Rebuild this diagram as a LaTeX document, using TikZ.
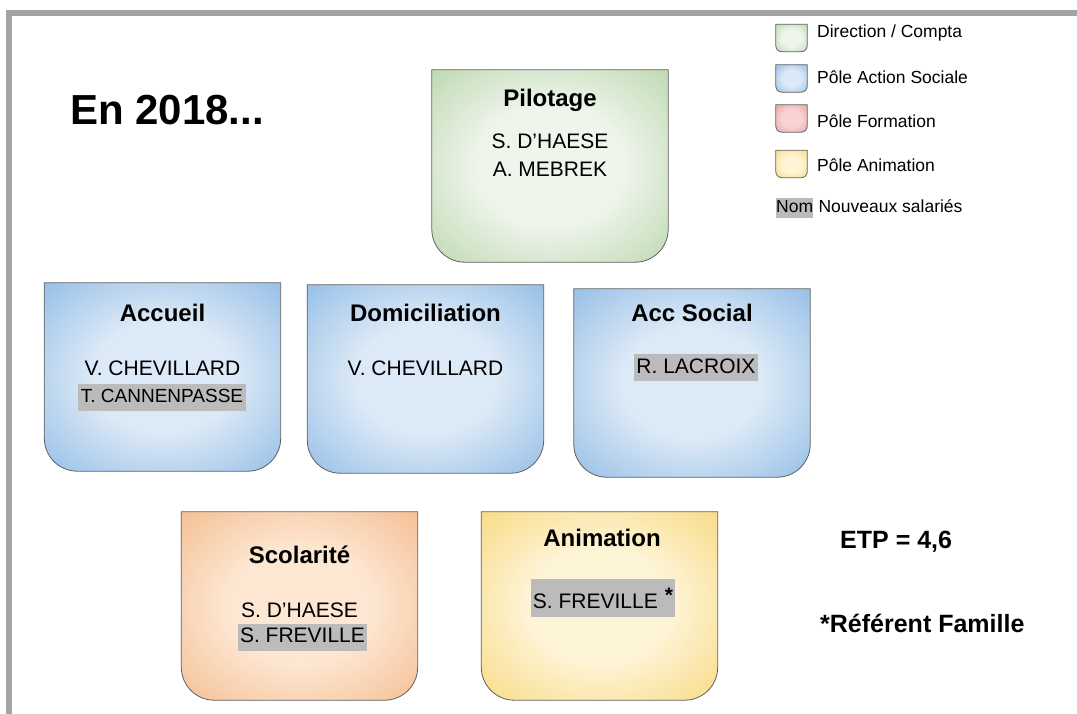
\documentclass[tikz,border=0pt]{standalone}
\usepackage{fontspec}
\setmainfont{Liberation Sans}
\usetikzlibrary{calc,positioning}
\definecolor{framegray}{RGB}{163,163,163}
\definecolor{edgegray}{RGB}{95,95,95}
\definecolor{newgray}{RGB}{187,187,187}
\definecolor{greenin}{RGB}{240,245,236}
\definecolor{greenout}{RGB}{165,203,150}
\definecolor{bluein}{RGB}{220,233,246}
\definecolor{blueout}{RGB}{115,170,224}
\definecolor{orangein}{RGB}{253,231,210}
\definecolor{orangeout}{RGB}{240,172,118}
\definecolor{yellowin}{RGB}{254,244,214}
\definecolor{yellowout}{RGB}{245,207,95}
\definecolor{redin}{RGB}{249,212,212}
\definecolor{redout}{RGB}{226,140,148}
\pgfdeclareradialshading{greenglow}{\pgfpoint{0bp}{0bp}}{color(0bp)=(greenin); color(15bp)=(greenin); color(46bp)=(greenout); color(75bp)=(greenout)}
\pgfdeclareradialshading{blueglow}{\pgfpoint{0bp}{0bp}}{color(0bp)=(bluein); color(15bp)=(bluein); color(46bp)=(blueout); color(75bp)=(blueout)}
\pgfdeclareradialshading{orangeglow}{\pgfpoint{0bp}{0bp}}{color(0bp)=(orangein); color(15bp)=(orangein); color(46bp)=(orangeout); color(75bp)=(orangeout)}
\pgfdeclareradialshading{yellowglow}{\pgfpoint{0bp}{0bp}}{color(0bp)=(yellowin); color(15bp)=(yellowin); color(46bp)=(yellowout); color(75bp)=(yellowout)}
\pgfdeclareradialshading{redglow}{\pgfpoint{0bp}{0bp}}{color(0bp)=(redin); color(15bp)=(redin); color(46bp)=(redout); color(75bp)=(redout)}
% square top, rounded bottom
\newcommand{\unitshape}[3][33pt]{%
  \path[shade, shading=#3, draw=edgegray, line width=0.8pt]
    (#2.north west) -- (#2.north east) -- ([yshift=#1]#2.south east)
    arc[start angle=0, end angle=-90, radius=#1] -- ([xshift=#1]#2.south west)
    arc[start angle=270, end angle=180, radius=#1] -- cycle;}

\begin{document}
\begin{tikzpicture}[x=1pt, y=-1pt,
  unit/.style={minimum width=236pt, minimum height=188pt, inner sep=0pt},
  swatch/.style={minimum width=31pt, minimum height=27pt, inner sep=0pt},
  unittitle/.style={font=\fontsize{24}{28}\selectfont\bfseries},
  person/.style={font=\fontsize{21}{25}\selectfont, text height=15pt, text depth=4pt, inner xsep=2.5pt, inner ysep=4pt},
  newhire/.style={person, fill=newgray},
  keytext/.style={font=\fontsize{17.5}{21}\selectfont, anchor=west, inner sep=0pt},
  bigtext/.style={font=\fontsize{25}{30}\selectfont\bfseries, anchor=west, inner sep=0pt}]
\useasboundingbox (0,0) rectangle (1077,714);
\draw[framegray, line width=6pt] (9,714) -- (9,13) -- (1077,13);
\node[font=\fontsize{42}{50}\selectfont\bfseries, anchor=west, inner sep=0pt] (year) at (70,110) {En 2018...};
% direction
\node[unit, minimum height=192pt] (pilotage) at (550,166) {};
\unitshape{pilotage}{greenglow}
\node[unittitle] (pilotage-t) at (550,100) {Pilotage};
\node[person] (pilotage-n1) at (550,143) {S. D'HAESE};
\node[person] (pilotage-n2) at (550,171) {A. MEBREK};
% action sociale
\node[unit] (accueil) at (162.5,377) {};
\unitshape{accueil}{blueglow}
\node[unittitle] (accueil-t) at (162.5,313) {Accueil};
\node[person] (accueil-n1) at (162.5,370) {V. CHEVILLARD};
\node[newhire, font=\fontsize{19}{23}\selectfont] (accueil-n2) at (162,397) {T. CANNENPASSE};
\node[unit] (domiciliation) at (425.5,379) {};
\unitshape{domiciliation}{blueglow}
\node[unittitle] (domiciliation-t) at (425.5,313) {Domiciliation};
\node[person] (domiciliation-n1) at (425.5,370) {V. CHEVILLARD};
\node[unit] (accsocial) at (692,383) {};
\unitshape{accsocial}{blueglow}
\node[unittitle] (accsocial-t) at (692,313) {Acc Social};
\node[newhire] (accsocial-n1) at (696,367.5) {R. LACROIX};
% formation / animation
\node[unit] (scolarite) at (299.5,606) {};
\unitshape{scolarite}{orangeglow}
\node[unittitle] (scolarite-t) at (299.5,555) {Scolarité};
\node[person] (scolarite-n1) at (299.5,612) {S. D'HAESE};
\node[newhire] (scolarite-n2) at (302.5,637) {S. FREVILLE};
\node[unit] (animation) at (599.5,606) {};
\unitshape{animation}{yellowglow}
\node[unittitle] (animation-t) at (602,538) {Animation};
\node[newhire, text height=26pt, inner xsep=2pt] (animation-n1) at (603,597.5) {S. FREVILLE\hspace{7pt}\raisebox{6pt}{\bfseries *}};
% legend
\node[swatch] (key-dir) at (791.5,38) {};
\unitshape[6pt]{key-dir}{greenglow}
\node[keytext] (key-dir-t) at (817,33) {Direction / Compta};
\node[swatch] (key-soc) at (791.5,78.5) {};
\unitshape[6pt]{key-soc}{blueglow}
\node[keytext] (key-soc-t) at (817,77) {Pôle Action Sociale};
\node[swatch] (key-form) at (791.5,118.5) {};
\unitshape[6pt]{key-form}{redglow}
\node[keytext] (key-form-t) at (817,121) {Pôle Formation};
\node[swatch] (key-anim) at (791.5,164) {};
\unitshape[6pt]{key-anim}{yellowglow}
\node[keytext] (key-anim-t) at (817,165) {Pôle Animation};
\node[keytext, fill=newgray, text height=13pt, text depth=4pt, inner ysep=1.5pt] (key-new) at (776,208) {Nom};
\node[keytext, base right=5pt of key-new] (key-new-t) {Nouveaux salariés};
% totals
\node[bigtext] (etp) at (840,542) {ETP = 4,6};
\node[bigtext] (referent) at (820,623) {*Référent Famille};
\end{tikzpicture}
\end{document}
